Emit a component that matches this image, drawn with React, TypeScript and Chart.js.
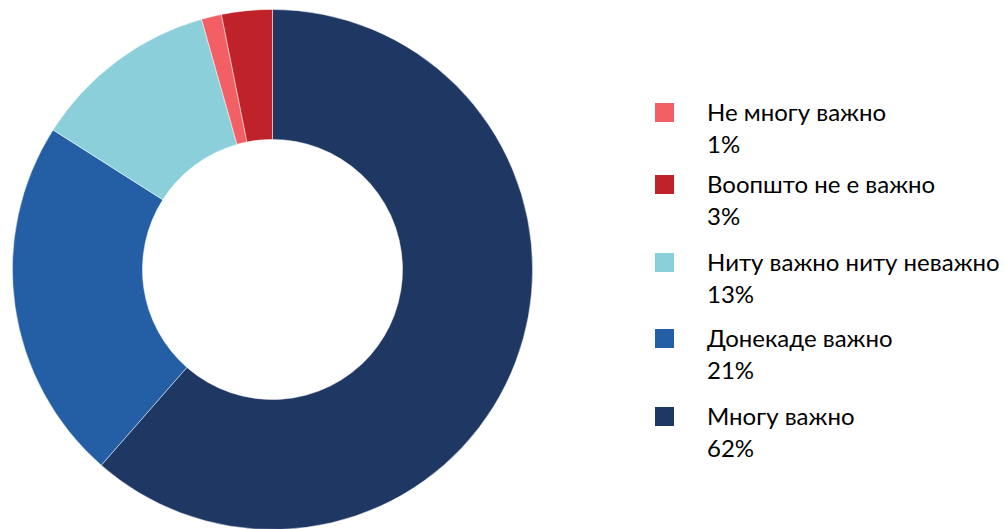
import React, { useEffect, useRef } from "react";
import { Chart, registerables } from "chart.js";

Chart.register(...registerables);

const categories = ["Многу важно", "Донекаде важно", "Ниту важно ниту неважно", "Не многу важно", "Воопшто не е важно"];
const values = [61.5, 22.6, 11.6, 1.25, 3.15];
const percentLabels = ["62%", "21%", "13%", "1%", "3%"];
const colors = ["#1F3763", "#245FA6", "#8BCFDB", "#F26065", "#BF2228"];
const legendOrder = [3, 4, 2, 1, 0];

const FONT = "Lato, 'Open Sans', sans-serif";
const legendTops = [103, 175, 253, 329, 407];

export default function App() {
  const canvasRef = useRef<HTMLCanvasElement | null>(null);

  useEffect(() => {
    const ctx = canvasRef.current;
    if (!ctx) return;
    const chart = new Chart(ctx, {
      type: "doughnut",
      data: {
        labels: categories,
        datasets: [
          {
            data: values,
            backgroundColor: colors,
            borderColor: "rgba(255,255,255,0.6)",
            borderWidth: 0.8,
          },
        ],
      },
      options: {
        animation: false,
        responsive: true,
        maintainAspectRatio: false,
        cutout: "50%",
        layout: { padding: 0 },
        plugins: {
          legend: { display: false },
          tooltip: { enabled: false },
        },
      },
    });
    return () => chart.destroy();
  }, []);

  return (
    <div style={{ position: "fixed", left: 0, top: 0, width: 1005, height: 529, background: "#fff", overflow: "hidden", fontFamily: FONT }}>
      <div style={{ position: "absolute", left: 12, top: 9, width: 521, height: 521 }}>
        <canvas ref={canvasRef} />
      </div>
      {legendOrder.map((idx, i) => (
        <div key={idx} style={{ position: "absolute", left: 655, top: legendTops[i], width: 350 }}>
          <div style={{ position: "absolute", left: 0, top: 0, width: 19, height: 19, background: colors[idx] }} />
          <div style={{ position: "absolute", left: 52, top: -7, fontSize: 24, lineHeight: "31.5px", color: "#000", whiteSpace: "nowrap" }}>
            <div>{categories[idx]}</div>
            <div>{percentLabels[idx]}</div>
          </div>
        </div>
      ))}
    </div>
  );
}
